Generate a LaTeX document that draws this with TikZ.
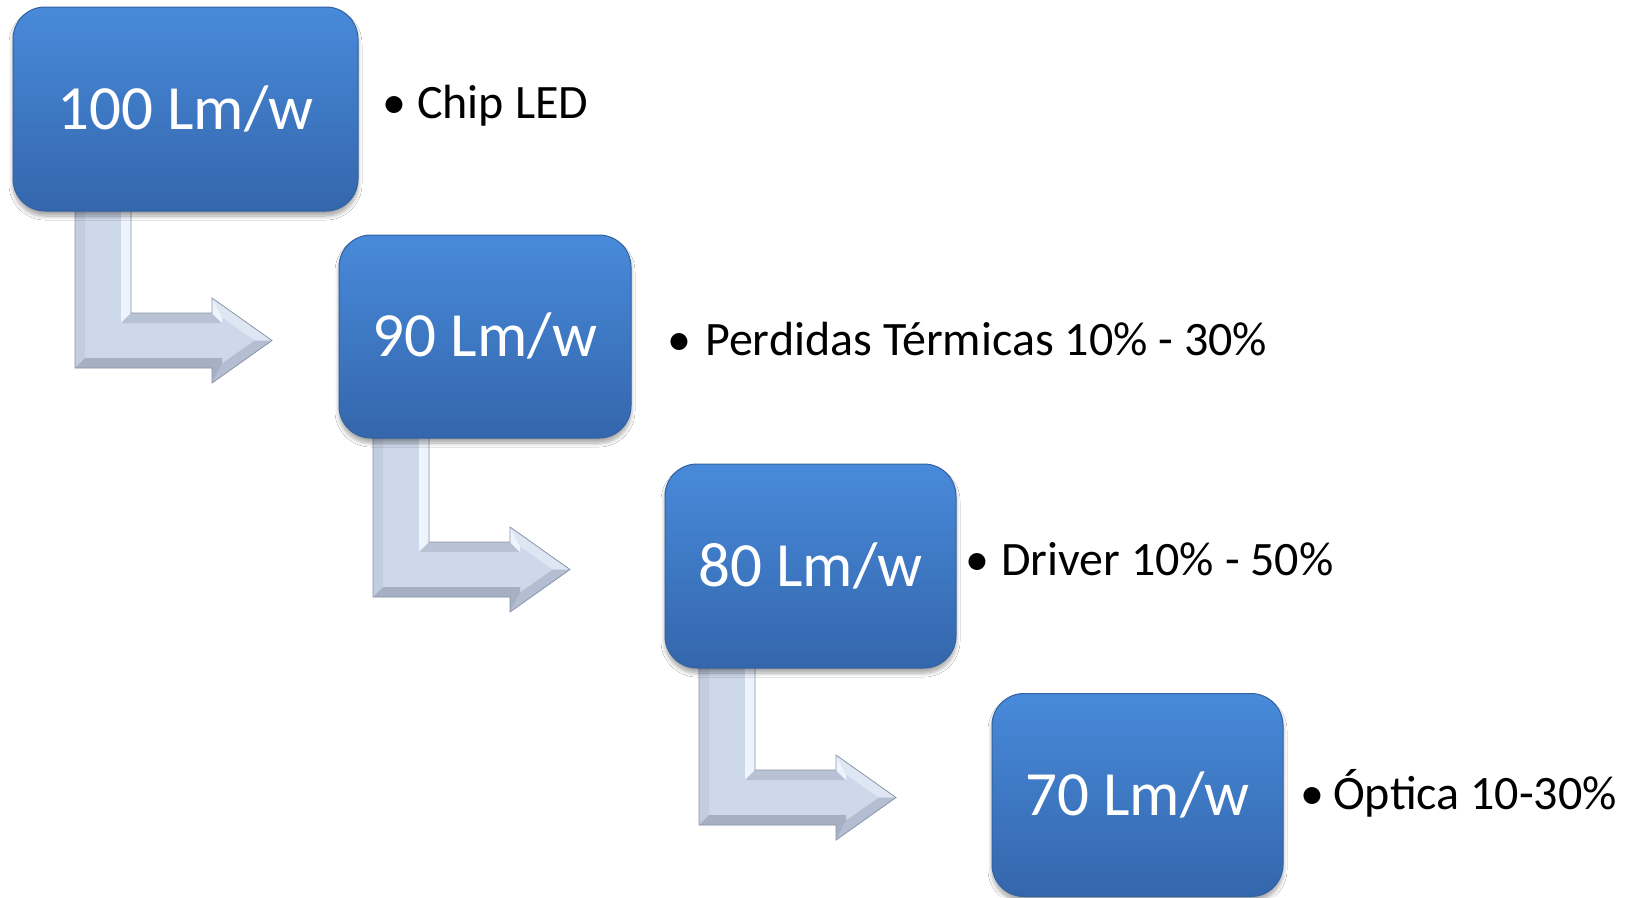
\documentclass[tikz,border=0pt]{standalone}
\usepackage{fontspec}
\setmainfont{Carlito}
\usetikzlibrary{shadows.blur}
\definecolor{boxtop}{RGB}{72,138,218}
\definecolor{boxbot}{RGB}{52,102,172}
\definecolor{boxline}{RGB}{50,98,160}
\definecolor{arface}{RGB}{205,216,235}
\definecolor{arleft}{RGB}{194,205,224}
\definecolor{arhi}{RGB}{238,244,252}
\definecolor{artop}{RGB}{184,194,213}
\definecolor{arhup}{RGB}{222,230,244}
\definecolor{arlow}{RGB}{180,190,210}
\definecolor{ardark}{RGB}{166,176,196}
\definecolor{arline}{RGB}{140,150,170}
\tikzset{
  lmbox/.style={rounded corners=32pt, top color=boxtop, bottom color=boxbot,
    draw=boxline, line width=1pt, text=white,
    font=\fontsize{63}{63}\selectfont, text height=40pt, text depth=0pt,
    inner sep=0pt,
    blur shadow={shadow xshift=0pt, shadow yshift=-5pt,
      shadow blur radius=4pt, shadow blur steps=8, shadow opacity=35}},
  bullettext/.style={anchor=base west, inner sep=0pt, font=\fontsize{48}{48}\selectfont},
  bulletmark/.style={anchor=base, inner sep=0pt, font=\fontsize{48}{48}\selectfont},
}
\newcommand\bentarrow[1]{%
\begin{scope}[shift={#1}]
  \fill[arface] (0,-14) -- (56,-14) -- (56,101) -- (137,101) -- (137,86) -- (197,128.5) -- (137,171) -- (137,156) -- (0,156) -- cycle;
  \fill[arleft] (0,-14) -- (10,-14) -- (10,146) -- (0,156) -- cycle;
  \fill[arhi] (56,-14) -- (46,-14) -- (46,111) -- (56,101) -- cycle;
  \fill[artop] (56,101) -- (46,111) -- (147,111) -- (137,101) -- cycle;
  \fill[arhi] (137,101) -- (147,111) -- (147,105.5) -- (137,86) -- cycle;
  \fill[arhup] (137,86) -- (147,105.5) -- (180,128.5) -- (197,128.5) -- cycle;
  \fill[arlow] (197,128.5) -- (180,128.5) -- (147,151.5) -- (137,171) -- cycle;
  \fill[ardark] (137,171) -- (147,151.5) -- (147,146) -- (137,156) -- cycle;
  \fill[ardark] (137,156) -- (147,146) -- (10,146) -- (0,156) -- cycle;
  \draw[arline, line width=0.8pt, line join=miter] (56,-14) -- (56,101) -- (137,101) -- (137,86) -- (197,128.5) -- (137,171) -- (137,156) -- (0,156) -- (0,-14);
\end{scope}}
\begin{document}
\begin{tikzpicture}[x=1pt,y=-1pt]
\useasboundingbox (0,0) rectangle (1635,897);
\fill[white] (0,0) rectangle (1635,897);
% bent arrows (drawn under the boxes)
\bentarrow{(75,212)}
\bentarrow{(373,441)}
\bentarrow{(699,669)}
% boxes
\node[lmbox, minimum width=345pt, minimum height=204pt] (b1) at (185.5,109) {100 Lm/w};
\node[lmbox, minimum width=292pt, minimum height=203pt] (b2) at (485,336.5) {90 Lm/w};
\node[lmbox, minimum width=291pt, minimum height=204pt] (b3) at (810.5,566) {80 Lm/w};
\node[lmbox, minimum width=291pt, minimum height=203pt] (b4) at (1137.5,795) {70 Lm/w};
% bullet labels
\node[bulletmark] (m1) at (394,118) {•};
\node[bullettext] (t1) at (417,118) {Chip LED};
\node[bulletmark] (m2) at (679,355) {•};
\node[bullettext] (t2) at (705,355) {Perdidas Térmicas 10\% - 30\%};
\node[bulletmark] (m3) at (977,575) {•};
\node[bullettext] (t3) at (1001,575) {Driver 10\% - 50\%};
\node[bulletmark] (m4) at (1312,809) {•};
\node[bullettext] (t4) at (1333,809) {Óptica 10-30\%};
\end{tikzpicture}
\end{document}
